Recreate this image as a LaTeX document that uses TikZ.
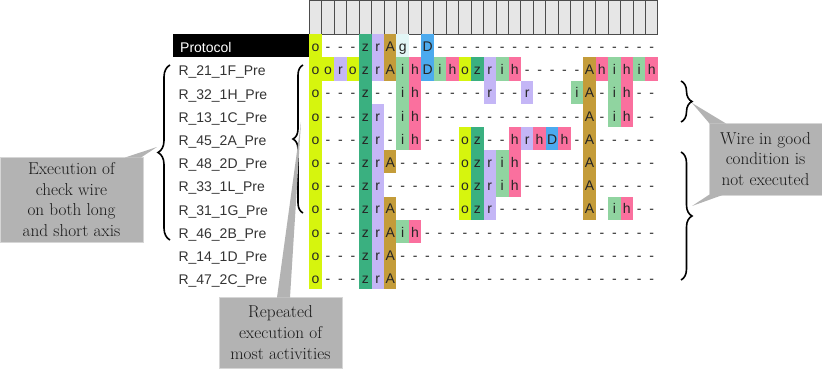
\documentclass[tikz,border=0pt]{standalone}
\usepackage{fontspec}
\newfontfamily\labfont{Liberation Sans}
\usetikzlibrary{decorations.pathreplacing}
\definecolor{Lo}{RGB}{214,245,14}
\definecolor{Lz}{RGB}{58,176,128}
\definecolor{Lr}{RGB}{196,182,246}
\definecolor{LA}{RGB}{196,156,58}
\definecolor{Li}{RGB}{144,212,160}
\definecolor{Lh}{RGB}{250,112,158}
\definecolor{LD}{RGB}{76,170,238}
\definecolor{Lg}{RGB}{226,246,246}
\definecolor{calloutgray}{RGB}{179,179,179}
\definecolor{calloutedge}{RGB}{214,214,214}
\definecolor{headfill}{RGB}{230,230,230}
\tikzset{
  headcell/.style={fill=headfill, draw=black!70, line width=1pt},
  cellt/.style={anchor=base, inner sep=0pt, font=\labfont\fontsize{14}{16}\selectfont, text=black!85},
  rowlab/.style={anchor=base west, inner sep=0pt, font=\labfont\fontsize{14}{16}\selectfont, text=black!80},
  protlab/.style={anchor=base west, inner sep=0pt, font=\labfont\fontsize{14}{16}\selectfont, text=white},
  callout/.style={fill=calloutgray, draw=calloutedge, line width=0.8pt, align=center, inner sep=0pt, font=\fontsize{17.2}{20.6}\selectfont, text=black!90},
  wedge/.style={fill=calloutgray},
  bracestyle/.style={decorate, decoration={brace, amplitude=#1}, line width=1.6pt},
}
\newcommand\placecell[3]{%
  \if#3-\else
    \fill[L#3] ({309.3+12.45*#2},{34.3+23.18*#1}) rectangle ++(12.45,23.18);
  \fi
  \node[cellt] (c#1-#2) at ({309.3+12.45*#2+6.225},{34.3+23.18*#1+17.3}) {#3};
}
\ExplSyntaxOn
\int_new:N \l_cellcol_int
\cs_new_protected:Npn \cellrow #1#2
 {
  \int_zero:N \l_cellcol_int
  \tl_map_inline:nn {#2}
   {
    \use:x { \exp_not:N \placecell {#1} { \int_use:N \l_cellcol_int } { \exp_not:n {##1} } }
    \int_incr:N \l_cellcol_int
   }
  \int_while_do:nNnn { \l_cellcol_int } < { 28 }
   {
    \use:x { \exp_not:N \placecell {#1} { \int_use:N \l_cellcol_int } { - } }
    \int_incr:N \l_cellcol_int
   }
 }
\ExplSyntaxOff
\begin{document}
\begin{tikzpicture}[x=1pt,y=-1pt]
\useasboundingbox (0,0) rectangle (822,369);
% header cells
\foreach \j in {0,...,27} {\draw[headcell] ({309.3+12.45*\j},0.5) rectangle ++(12.45,33.8);}
% protocol label
\fill[black] (172.7,34.3) rectangle (309.3,57.5);
\node[protlab] (plab) at (180,53) {Protocol};
% row labels
\foreach \n [count=\k] in {R\_21\_1F\_Pre,R\_32\_1H\_Pre,R\_13\_1C\_Pre,R\_45\_2A\_Pre,R\_48\_2D\_Pre,R\_33\_1L\_Pre,R\_31\_1G\_Pre,R\_46\_2B\_Pre,R\_14\_1D\_Pre,R\_47\_2C\_Pre}
  {\node[rowlab] (lab\k) at (178.3,{34.3+23.18*\k+18.5}) {\n};}
% cells
\cellrow{0}{o---zrAg-D}
\cellrow{1}{oorozrAihDihozrih-----Ahihih}
\cellrow{2}{o---z--ih-----r--r---iA-ih}
\cellrow{3}{o---zr-ih-------------A-ih}
\cellrow{4}{o---zr-ih---oz--hrhDh-A}
\cellrow{5}{o---zrA-----ozrih-----A}
\cellrow{6}{o---zr------ozrih-----A}
\cellrow{7}{o---zrA-----ozr-------A-ih}
\cellrow{8}{o---zrAih}
\cellrow{9}{o---zrA}
\cellrow{10}{o---zrA}
% braces
\draw[bracestyle=12pt] (170,240) -- (170,65);
\draw[bracestyle=10pt] (303,213) -- (303,65);
\draw[bracestyle=11pt] (681,81) -- (681,122);
\draw[bracestyle=11pt] (681,152) -- (681,280);
% callouts
\node[callout, minimum width=143pt, minimum height=85pt] (call1) at (71.5,199.5) {Execution of\\check wire\\on both long\\and short axis};
\node[callout, minimum width=123pt, minimum height=71pt] (call2) at (280.5,332.5) {Repeated\\execution of\\most activities};
\node[callout, minimum width=113pt, minimum height=72pt] (call3) at (765.5,159) {Wire in good\\condition is\\not executed};
\coordinate (tip1) at (157,147);
\coordinate (tip2) at (301,122);
\coordinate (tip3) at (692,103);
\coordinate (tip4) at (692,206);
\fill[wedge] (125,157.5) -- (141,157.5) -- (tip1) -- cycle;
\fill[wedge] (277,297.5) -- (290,297.5) -- (tip2) -- cycle;
\fill[wedge] (709.5,123.5) -- (726,123.5) -- (tip3) -- cycle;
\fill[wedge] (709.5,194.5) -- (724,194.5) -- (tip4) -- cycle;
\end{tikzpicture}
\end{document}
